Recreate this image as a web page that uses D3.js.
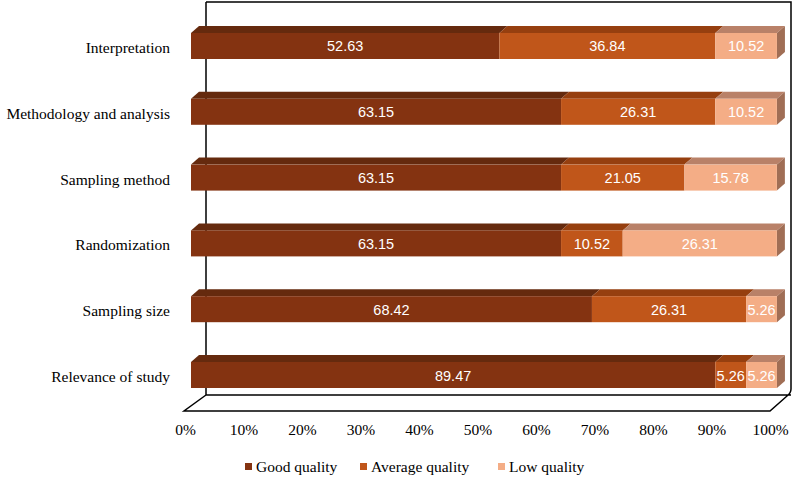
<!DOCTYPE html>
<html>
<head>
<meta charset="utf-8">
<script src="https://cdn.jsdelivr.net/npm/d3@7"></script>
<style>
  body { margin: 0; background: #fff; }
  svg { display: block; }
  .serif { font-family: "Liberation Serif", "Times New Roman", "DejaVu Serif", serif; }
</style>
</head>
<body>
<svg id="viz" width="794" height="478"></svg>
<script>
// Data
const categories = ["Interpretation", "Methodology and analysis", "Sampling method",
    "Randomization", "Sampling size", "Relevance of study"];
const goodQuality = [52.63, 63.15, 63.15, 63.15, 68.42, 89.47];
const averageQuality = [36.84, 26.31, 21.05, 10.52, 26.31, 5.26];
const lowQuality = [10.52, 10.52, 15.78, 26.31, 5.26, 5.26];
const seriesNames = ["Good quality", "Average quality", "Low quality"];
const tickValues = [0, 10, 20, 30, 40, 50, 60, 70, 80, 90, 100];

const svg = d3.select("#viz");

// front / top / side shades per series
const colors = [
    { front: "#843311", top: "#652a0e", side: "#5a250c" },
    { front: "#c0561a", top: "#963f0f", side: "#8a3a0e" },
    { front: "#f4ad86", top: "#b98168", side: "#a06e55" }
];

const x = d3.scaleLinear().domain([0, 100]).range([191, 777]);
const xAxisScale = d3.scaleLinear().domain([0, 100]).range([185, 770]);
const y = d3.scaleBand().domain(categories).range([33, 388]).paddingInner(0.605).paddingOuter(0);

const dx = 8, dy = -7; // bar depth
const sans = "'Liberation Sans', Arial, sans-serif";

// walls and floor
const wallL = 206, wallR = 791, wallT = 2, floorBack = 395, floorFront = 411;
svg.append("path")
    .attr("d", `M${wallL},${wallT} L${wallL},${floorBack} L${wallR},${floorBack}`
        + ` M${wallL},${wallT} L${wallR},${wallT} L${wallR},${floorBack - 6}`
        + ` Q${wallR},${floorBack - 2} ${wallR - 4},${floorBack + 1} L770,${floorFront}`
        + ` L184,${floorFront} L${wallL},${floorBack}`)
    .attr("fill", "none")
    .attr("stroke", "#000")
    .attr("stroke-width", 1.5);

// stacked segments
const stacked = categories.map((c, i) => {
    const vals = [goodQuality[i], averageQuality[i], lowQuality[i]];
    let acc = 0;
    return vals.map((v, k) => {
        const seg = { cat: c, k: k, v: v, x0: acc, x1: acc + v, last: k === 2 };
        acc += v;
        return seg;
    });
}).flat();

const h = y.bandwidth();
const bars = svg.append("g");

// top faces
bars.selectAll("path.top")
    .data(stacked)
    .join("path")
    .attr("class", "top")
    .attr("d", d => {
        const yy = y(d.cat), a = x(d.x0), b = x(d.x1);
        return `M${a},${yy} L${a + dx},${yy + dy} L${b + dx},${yy + dy} L${b},${yy} Z`;
    })
    .attr("fill", d => colors[d.k].top);

// right side
bars.selectAll("path.side")
    .data(stacked.filter(d => d.last))
    .join("path")
    .attr("class", "side")
    .attr("d", d => {
        const yy = y(d.cat), b = x(d.x1);
        return `M${b},${yy} L${b + dx},${yy + dy} L${b + dx},${yy + h + dy} L${b},${yy + h} Z`;
    })
    .attr("fill", d => colors[d.k].side);

// front faces
bars.selectAll("rect.front")
    .data(stacked)
    .join("rect")
    .attr("class", "front")
    .attr("x", d => x(d.x0))
    .attr("y", d => y(d.cat))
    .attr("width", d => x(d.x1) - x(d.x0))
    .attr("height", h)
    .attr("fill", d => colors[d.k].front);

// value labels
bars.selectAll("text.val")
    .data(stacked)
    .join("text")
    .attr("class", "val")
    .attr("x", d => (x(d.x0) + x(d.x1)) / 2)
    .attr("y", d => y(d.cat) + h / 2 + 5.5)
    .attr("text-anchor", "middle")
    .style("font-family", sans)
    .style("font-size", "14.5px")
    .attr("fill", "#fff")
    .text(d => d.v.toFixed(2));

// category labels
svg.append("g").selectAll("text")
    .data(categories)
    .join("text")
    .attr("class", "serif")
    .attr("x", 170)
    .attr("y", d => y(d) + h / 2 + 7)
    .attr("text-anchor", "end")
    .style("font-size", "15.5px")
    .attr("fill", "#000")
    .text(d => d);

// x axis labels
const axis = svg.append("g")
    .attr("transform", "translate(0,424)")
    .call(d3.axisBottom(xAxisScale).tickValues(tickValues).tickFormat(d => d + "%").tickSize(0).tickPadding(0));
axis.select(".domain").remove();
axis.attr("font-family", null).attr("font-size", null);
axis.selectAll("text")
    .attr("class", "serif")
    .style("font-size", "15.5px")
    .attr("fill", "#000");

// legend
const legendX = [245, 360, 498];
const legend = svg.append("g").selectAll("g")
    .data(seriesNames)
    .join("g")
    .attr("transform", (d, i) => `translate(${legendX[i]},463)`);
legend.append("rect")
    .attr("width", 7)
    .attr("height", 7)
    .attr("fill", (d, i) => colors[i].front);
legend.append("text")
    .attr("class", "serif")
    .attr("x", 11)
    .attr("y", 8.5)
    .style("font-size", "15.5px")
    .attr("fill", "#000")
    .text(d => d);
</script>
</body>
</html>
